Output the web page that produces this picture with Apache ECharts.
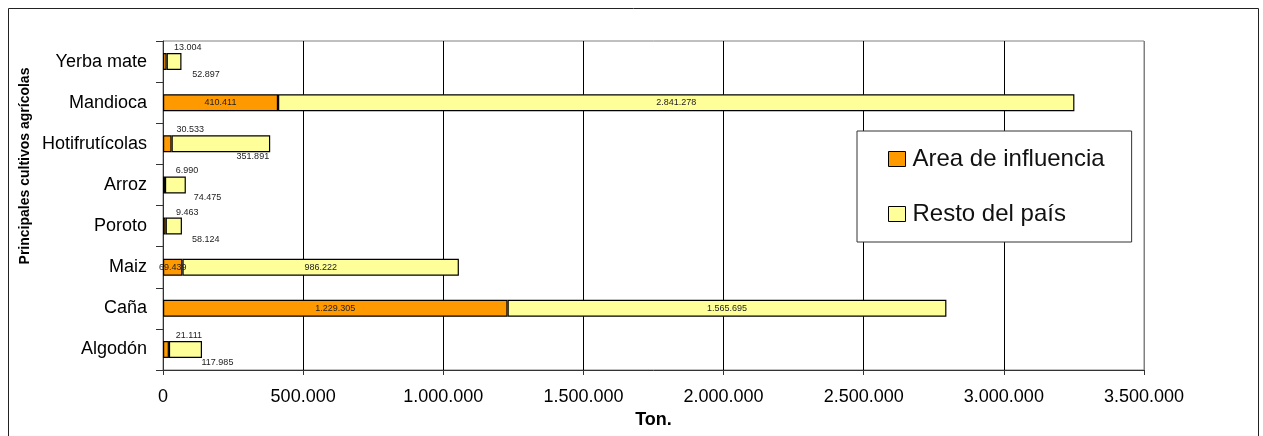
<!DOCTYPE html>
<html>
<head>
<meta charset="utf-8">
<script src="https://cdn.jsdelivr.net/npm/echarts@6/dist/echarts.min.js"></script>
<style>
  html, body { margin: 0; padding: 0; background: #fff; }
  #chart { width: 1263px; height: 436px; }
</style>
</head>
<body>
<div id="chart"></div>
<script>
// Crops, listed top to bottom
const categories = ['Yerba mate', 'Mandioca', 'Hotifrutícolas', 'Arroz', 'Poroto', 'Maiz', 'Caña', 'Algodón'];
// Production (tons) in the area of influence
const areaInfluencia = [13004, 410411, 30533, 6990, 9463, 69439, 1229305, 21111];
// Production (tons) in the rest of the country
const restoPais = [52897, 2841278, 351891, 74475, 58124, 986222, 1565695, 117985];
const xTicks = [0, 500000, 1000000, 1500000, 2000000, 2500000, 3000000, 3500000];

const FONT = 'Liberation Sans, Arial, sans-serif';

function fmt(v) {
  return String(v).replace(/\B(?=(\d{3})+(?!\d))/g, '.');
}

// Narrow segments get their value written outside the bar
function buildData(values, limit, outsideLabel) {
  return values.map(v => {
    const item = { value: v };
    if (v < limit) item.label = outsideLabel;
    return item;
  });
}

// Vertical gridlines are black; the last one doubles as the gray plot frame
const gridColors = xTicks.map((t, i) => (i === xTicks.length - 1 ? '#808080' : '#000'));

const labelBase = { show: true, position: 'inside', fontSize: 9, color: '#222', fontFamily: FONT, formatter: p => fmt(p.value) };

const chart = echarts.init(document.getElementById('chart'), null, { renderer: 'canvas' });

chart.setOption({
  animation: false,
  backgroundColor: '#fff',
  textStyle: { fontFamily: FONT },
  grid: {
    left: 163, top: 41, right: 119, bottom: 66,
    show: true, borderColor: '#808080', borderWidth: 1, backgroundColor: 'transparent'
  },
  legend: {
    orient: 'vertical',
    left: 857, top: 131,
    padding: [16, 27, 16, 31],
    itemGap: 31,
    itemWidth: 17, itemHeight: 15,
    backgroundColor: '#fff',
    borderColor: '#333', borderWidth: 1,
    icon: 'rect',
    itemStyle: { borderColor: '#000', borderWidth: 1 },
    textStyle: { fontSize: 24, color: '#111', fontFamily: FONT, padding: [0, 0, 0, 2] },
    data: ['Area de influencia', 'Resto del país']
  },
  xAxis: {
    type: 'value',
    min: xTicks[0], max: xTicks[xTicks.length - 1], interval: xTicks[1] - xTicks[0],
    name: 'Ton.', nameLocation: 'middle', nameGap: 40,
    nameTextStyle: { fontSize: 18, fontWeight: 'bold', color: '#000', fontFamily: FONT },
    axisLine: { show: true, lineStyle: { color: '#333', width: 1 } },
    axisTick: { show: true, length: 5, lineStyle: { color: '#333' } },
    axisLabel: { fontSize: 18, color: '#000', margin: 18, formatter: v => fmt(v), fontFamily: FONT },
    splitLine: { show: true, lineStyle: { color: gridColors, width: 1 } }
  },
  yAxis: {
    type: 'category',
    inverse: true,
    data: categories,
    axisLine: { show: true, lineStyle: { color: '#333', width: 1 } },
    axisTick: { show: true, length: 7, alignWithLabel: false, lineStyle: { color: '#333' } },
    axisLabel: { fontSize: 18, color: '#000', margin: 16, fontFamily: FONT },
    splitLine: { show: false }
  },
  graphic: [
    {
      type: 'rect', silent: true, z: -1,
      shape: { x: 8.5, y: 8.5, width: 1250, height: 440 },
      style: { fill: 'none', stroke: '#222', lineWidth: 1 }
    },
    {
      type: 'text', x: 25, y: 166, rotation: Math.PI / 2,
      style: {
        text: 'Principales cultivos agrícolas',
        fontSize: 14, fontWeight: 'bold', fill: '#000', fontFamily: FONT,
        textAlign: 'center', textVerticalAlign: 'middle'
      }
    }
  ],
  series: [
    {
      name: 'Area de influencia',
      type: 'bar', stack: 'total', barWidth: 17,
      itemStyle: { color: '#FF9900', borderColor: '#000', borderWidth: 1.2 },
      label: labelBase,
      data: buildData(areaInfluencia, 50000, { position: 'top', distance: 1, offset: [23, 0] })
    },
    {
      name: 'Resto del país',
      type: 'bar', stack: 'total', barWidth: 17,
      itemStyle: { color: '#FFFF99', borderColor: '#000', borderWidth: 1.2 },
      label: labelBase,
      data: buildData(restoPais, 500000, { position: 'bottom', distance: 0, offset: [32, 0] })
    }
  ]
});
</script>
</body>
</html>
